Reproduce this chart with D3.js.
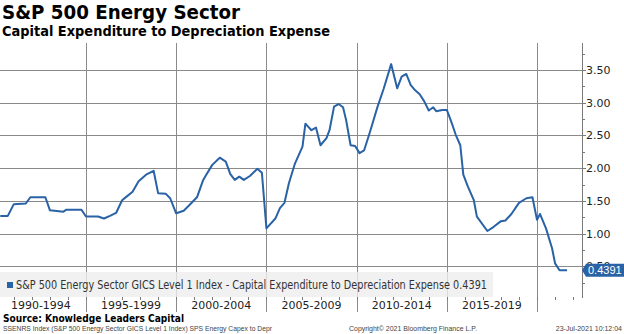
<!DOCTYPE html>
<html>
<head>
<meta charset="utf-8">
<script src="https://cdn.jsdelivr.net/npm/d3@7"></script>
<style>
  body { margin: 0; background: #fff; }
  svg { display: block; font-family: "DejaVu Sans", Verdana, sans-serif; }
</style>
</head>
<body>
<div id="chart"></div>
<script>
// capex / depreciation ratio, S&P 500 energy sector
var dates = [
  "1990-04","1990-09","1991-01","1991-09","1991-12","1992-10","1993-01","1993-10","1993-12","1994-10",
  "1995-01","1995-09","1996-01","1996-05","1996-09","1997-01","1997-04","1997-08","1997-12","1998-05",
  "1998-10","1999-01","1999-06","1999-09","2000-01","2000-06","2000-10","2001-03","2001-07","2001-09",
  "2002-01","2002-06","2002-10","2003-01","2003-04","2003-07","2003-10","2004-02","2004-07","2004-10",
  "2005-01","2005-03","2005-07","2005-10","2006-01","2006-04","2006-08","2007-01","2007-03","2007-07",
  "2007-10","2008-01","2008-05","2008-07","2008-10","2009-01","2009-04","2009-06","2009-09","2009-12",
  "2010-03","2010-06","2010-10","2011-03","2011-07","2011-12","2012-04","2012-07","2012-10","2013-01",
  "2013-04","2013-07","2013-10","2014-01","2014-04","2014-06","2014-10","2015-01","2015-04","2015-07",
  "2015-10","2015-12","2016-03","2016-07","2016-09","2017-04","2017-08","2018-01","2018-04","2018-08",
  "2019-01","2019-06","2019-10","2020-01","2020-03","2020-07","2020-11","2021-01","2021-04","2021-06",
  "2021-09"
];
var values = [
  1.27, 1.27, 1.45, 1.46, 1.555, 1.555, 1.355, 1.335, 1.365, 1.365,
  1.26, 1.26, 1.23, 1.27, 1.315, 1.51, 1.565, 1.64, 1.80, 1.90,
  1.96, 1.615, 1.61, 1.54, 1.31, 1.35, 1.44, 1.56, 1.82, 1.90,
  2.05, 2.16, 2.10, 1.91, 1.82, 1.87, 1.82, 1.88, 1.99, 1.93,
  1.08, 1.13, 1.23, 1.39, 1.47, 1.77, 2.07, 2.33, 2.68, 2.58,
  2.62, 2.35, 2.46, 2.58, 2.94, 2.98, 2.93, 2.74, 2.35, 2.34,
  2.23, 2.27, 2.56, 2.94, 3.21, 3.59, 3.22, 3.40, 3.44, 3.27,
  3.19, 3.13, 3.02, 2.88, 2.93, 2.87, 2.89, 2.89, 2.71, 2.51,
  2.35, 1.90, 1.72, 1.51, 1.26, 1.04, 1.10, 1.19, 1.20, 1.30,
  1.47, 1.54, 1.555, 1.21, 1.30, 1.08, 0.775, 0.545, 0.44, 0.44,
  0.4391
];
var periodLabels = ["1990-1994","1995-1999","2000-2004","2005-2009","2010-2014","2015-2019"];
var periodStarts = [1990, 1995, 2000, 2005, 2010, 2015, 2020];
var yTicks = [0.5, 1.0, 1.5, 2.0, 2.5, 3.0, 3.5];
var yMinorTicks = [0.25, 0.75, 1.25, 1.75, 2.25, 2.75, 3.25, 3.75];
var lastValue = values[values.length - 1];

var seriesName = "S&P 500 Energy Sector GICS Level 1 Index - Capital Expenditure to Depreciation Expense";

var width = 624, height = 334;
var plot = { left: 0, right: 582, top: 43, bottom: 297 };

var parse = d3.timeParse("%Y-%m");
var data = dates.map(function(d, i) { return { date: parse(d), value: values[i] }; });

var x = d3.scaleTime()
  .domain([new Date(1995, 0, 1), new Date(2020, 0, 1)])
  .range([86, 537]);

var y = d3.scaleLinear()
  .domain([0.5, 3.5])
  .range([266.3, 70]);

var svg = d3.select("#chart").append("svg")
  .attr("width", width)
  .attr("height", height);

svg.append("rect").attr("width", width).attr("height", height).attr("fill", "#fff");

// squeeze long strings into the width they should take
var fit = function(sel, w) {
  var len = sel.node().getComputedTextLength();
  if (len > w) sel.attr("textLength", w).attr("lengthAdjust", "spacingAndGlyphs");
  return sel;
};

// titles
fit(svg.append("text").attr("x", 2).attr("y", 19)
  .attr("font-size", 19).attr("font-weight", "bold").attr("fill", "#000")
  .text("S&P 500 Energy Sector"), 238);
fit(svg.append("text").attr("x", 2).attr("y", 36)
  .attr("font-size", 14).attr("font-weight", "bold").attr("fill", "#000")
  .text("Capital Expenditure to Depreciation Expense"), 328);

// grid
var grid = svg.append("g").attr("stroke", "#8a8a8a").attr("stroke-width", 1);
grid.selectAll("line.h")
  .data(yTicks)
  .join("line")
  .attr("class", "h")
  .attr("x1", plot.left).attr("x2", plot.right)
  .attr("y1", d => Math.round(y(d)) + 0.5)
  .attr("y2", d => Math.round(y(d)) + 0.5);
grid.selectAll("line.v")
  .data(periodStarts.slice(1))
  .join("line")
  .attr("class", "v")
  .attr("x1", d => Math.round(x(new Date(d, 0, 1))) + 0.5)
  .attr("x2", d => Math.round(x(new Date(d, 0, 1))) + 0.5)
  .attr("y1", plot.top).attr("y2", 312);

// legend band
svg.append("rect")
  .attr("x", 0).attr("y", 272).attr("width", 493).attr("height", 25)
  .attr("fill", "#eeeeee").attr("fill-opacity", 0.8);
svg.append("rect")
  .attr("x", 7).attr("y", 282).attr("width", 6).attr("height", 6)
  .attr("fill", "#2a62a6");
fit(svg.append("text").attr("x", 16).attr("y", 289)
  .attr("font-size", 12).attr("fill", "#333")
  .text(seriesName + " " + lastValue.toFixed(4)), 471);

// series line
svg.append("path")
  .datum(data)
  .attr("fill", "none")
  .attr("stroke", "#2a62a6")
  .attr("stroke-width", 2)
  .attr("stroke-linejoin", "round")
  .attr("d", d3.line().x(d => x(d.date)).y(d => y(d.value)));

// right axis
var axis = svg.append("g").attr("stroke", "#7a7a7a");
axis.append("line")
  .attr("x1", plot.right + 0.5).attr("x2", plot.right + 0.5)
  .attr("y1", plot.top).attr("y2", plot.bottom + 1);
axis.selectAll("line.major")
  .data(yTicks)
  .join("line")
  .attr("class", "major")
  .attr("x1", plot.right).attr("x2", plot.right + 4)
  .attr("y1", d => Math.round(y(d)) + 0.5).attr("y2", d => Math.round(y(d)) + 0.5);
axis.selectAll("line.minor")
  .data(yMinorTicks)
  .join("line")
  .attr("class", "minor")
  .attr("x1", plot.right).attr("x2", plot.right + 3)
  .attr("y1", d => Math.round(y(d)) + 0.5).attr("y2", d => Math.round(y(d)) + 0.5);
svg.append("g")
  .attr("font-size", 11).attr("fill", "#222")
  .selectAll("text")
  .data(yTicks)
  .join("text")
  .attr("x", plot.right + 4)
  .attr("y", d => y(d))
  .attr("dy", "0.36em")
  .text(d => d.toFixed(2));

// yearly ticks under the plot
svg.append("g").attr("stroke", "#7a7a7a")
  .selectAll("line")
  .data(d3.range(1991, 2023))
  .join("line")
  .attr("x1", d => Math.round(x(new Date(d, 0, 1))) + 0.5)
  .attr("x2", d => Math.round(x(new Date(d, 0, 1))) + 0.5)
  .attr("y1", plot.bottom).attr("y2", plot.bottom + 3);

// period labels
svg.append("g")
  .attr("font-size", 11).attr("fill", "#222").attr("text-anchor", "middle")
  .selectAll("text")
  .data(periodLabels)
  .join("text")
  .attr("x", (d, i) => (x(new Date(periodStarts[i], 0, 1)) + x(new Date(periodStarts[i + 1], 0, 1))) / 2)
  .attr("y", 309)
  .text(d => d);

// last value tag, drawn over the 0.50 label
var ty = y(lastValue);
svg.append("path")
  .attr("d", "M" + (plot.right) + "," + ty +
    " L" + (plot.right + 4) + "," + (ty - 6.5) +
    " H" + (width) + " V" + (ty + 6.5) +
    " H" + (plot.right + 4) + " Z")
  .attr("fill", "#2a62a6");
svg.append("text")
  .attr("x", plot.right + 6).attr("y", ty).attr("dy", "0.36em")
  .attr("font-family", "'Liberation Sans', Arial, sans-serif")
  .attr("font-size", 11).attr("fill", "#fff")
  .text(lastValue.toFixed(4));

// source and footer
fit(svg.append("text").attr("x", 3).attr("y", 322)
  .attr("font-size", 11).attr("font-weight", "bold").attr("fill", "#000")
  .text("Source: Knowledge Leaders Capital"), 181);
var foot = svg.append("g")
  .attr("font-family", "'Liberation Sans', Arial, sans-serif")
  .attr("font-size", 7).attr("fill", "#444");
fit(foot.append("text").attr("x", 3).attr("y", 331)
  .text("SSENRS Index (S&P 500 Energy Sector GICS Level 1 Index) SPS Energy Capex to Depr"), 269);
fit(foot.append("text").attr("x", 349).attr("y", 331)
  .text("Copyright\u00a9 2021 Bloomberg Finance L.P."), 128);
foot.append("text").attr("x", 622).attr("y", 331).attr("text-anchor", "end")
  .text("23-Jul-2021 10:12:04");
</script>
</body>
</html>
